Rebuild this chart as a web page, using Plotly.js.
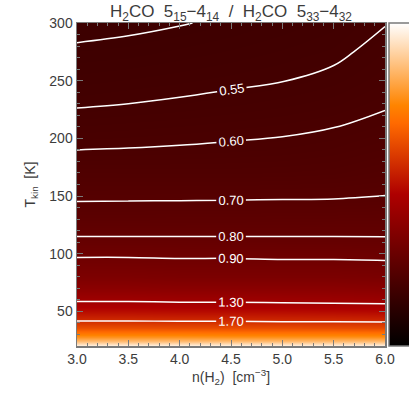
<!DOCTYPE html>
<html lang="en">
<head>
    <meta charset="UTF-8">
    <script src="https://cdn.plot.ly/plotly-3.0.1.min.js"></script>
    <style>
        html, body, #plot {
            width: 409px;
            height: 396px;
            margin: 0;
            padding: 0;
            overflow: hidden;
            background: #ffffff;
        }
    </style>
</head>
<body>
<div id="plot"></div>
<script>
    // log n(H2) grid [cm^-3]
    const density = [3.0, 3.5, 4.0, 4.5, 5.0, 5.5, 6.0];
    // kinetic temperature grid [K]
    const tkin = [20, 24, 28, 32, 36, 41, 50, 58, 70, 80, 95, 115, 130, 147, 170, 190, 210, 230, 250, 275, 300];

    // line ratio, one row per temperature, one column per density
    const ratio = [
        [2.95, 2.95, 2.95, 2.95, 2.95, 2.95, 2.95],
        [2.57, 2.57, 2.57, 2.57, 2.56, 2.56, 2.56],
        [2.33, 2.33, 2.33, 2.32, 2.32, 2.32, 2.31],
        [2.09, 2.09, 2.09, 2.08, 2.08, 2.08, 2.07],
        [1.90, 1.90, 1.89, 1.89, 1.89, 1.88, 1.87],
        [1.72, 1.72, 1.71, 1.71, 1.70, 1.70, 1.69],
        [1.48, 1.48, 1.47, 1.47, 1.47, 1.46, 1.45],
        [1.31, 1.31, 1.30, 1.30, 1.29, 1.28, 1.27],
        [1.12, 1.12, 1.11, 1.11, 1.11, 1.11, 1.10],
        [1.01, 1.01, 1.00, 1.00, 1.00, 1.00, 0.99],
        [0.910, 0.910, 0.905, 0.905, 0.900, 0.900, 0.895],
        [0.800, 0.800, 0.800, 0.800, 0.800, 0.800, 0.799],
        [0.745, 0.746, 0.747, 0.748, 0.750, 0.752, 0.755],
        [0.695, 0.696, 0.697, 0.698, 0.700, 0.701, 0.706],
        [0.645, 0.644, 0.643, 0.643, 0.645, 0.650, 0.665],
        [0.600, 0.602, 0.605, 0.609, 0.613, 0.622, 0.638],
        [0.572, 0.576, 0.580, 0.585, 0.590, 0.599, 0.615],
        [0.545, 0.550, 0.555, 0.561, 0.568, 0.577, 0.594],
        [0.527, 0.532, 0.537, 0.543, 0.549, 0.560, 0.578],
        [0.507, 0.510, 0.517, 0.524, 0.532, 0.541, 0.564],
        [0.485, 0.492, 0.498, 0.506, 0.516, 0.527, 0.548]
    ];

    // contour levels drawn on top of the map
    const levels = [0.50, 0.55, 0.60, 0.70, 0.80, 0.90, 1.30, 1.70];

    const axisGray = '#7a7a7a';
    const textGray = '#3c3c3c';
    const font = {family: 'Liberation Sans, Arial, sans-serif', size: 14, color: textGray};

    // IDL style "red temperature" table
    const redTemp = [
        [0, 'rgb(0,0,0)'],
        [0.47, 'rgb(174,0,0)'],
        [0.69, 'rgb(255,106,0)'],
        [0.745, 'rgb(255,132,0)'],
        [1, 'rgb(255,255,255)']
    ];

    const heat = {
        type: 'heatmap',
        x: density,
        y: tkin,
        z: ratio,
        zmin: 0,
        zmax: 3.0,
        zsmooth: 'best',
        colorscale: redTemp,
        hoverinfo: 'skip',
        colorbar: {
            x: 1.013,
            xanchor: 'left',
            xpad: 0,
            ypad: 0,
            y: 0.5,
            yanchor: 'middle',
            len: 1,
            thickness: 32,
            outlinecolor: axisGray,
            outlinewidth: 1.5,
            showticklabels: false,
            ticks: 'inside',
            ticklen: 4,
            tickcolor: axisGray,
            tick0: 0,
            dtick: 0.25
        }
    };

    // one contour trace per level, since the levels are not evenly spaced
    const lines = levels.map(lv => ({
        type: 'contour',
        x: density,
        y: tkin,
        z: ratio,
        showscale: false,
        hoverinfo: 'skip',
        contours: {
            coloring: 'none',
            start: lv,
            end: lv,
            size: 1,
            showlabels: true,
            labelformat: '.2f',
            labelfont: {family: 'Liberation Sans, Arial, sans-serif', size: 13, color: '#ffffff'}
        },
        line: {color: '#ffffff', width: 1.5, smoothing: 1}
    }));

    const axisCommon = {
        showgrid: false,
        zeroline: false,
        showline: true,
        linecolor: axisGray,
        linewidth: 1.5,
        mirror: 'allticks',
        ticks: 'inside',
        ticklen: 6,
        tickcolor: axisGray,
        tickwidth: 1,
        tickfont: font
    };

    const layout = {
        width: 409,
        height: 396,
        margin: {l: 77, r: 24, t: 23, b: 50, pad: 0, autoexpand: false},
        paper_bgcolor: '#ffffff',
        plot_bgcolor: '#ffffff',
        font: font,
        showlegend: false,
        title: {
            text: 'H<sub>2</sub>CO  5<sub>15</sub>\u22124<sub>14</sub>  /  H<sub>2</sub>CO  5<sub>33</sub>\u22124<sub>32</sub>',
            font: {family: 'Liberation Sans, Arial, sans-serif', size: 17, color: textGray},
            x: 0.5,
            xref: 'paper',
            xanchor: 'center',
            y: 0.972,
            yref: 'container',
            yanchor: 'middle'
        },
        xaxis: Object.assign({}, axisCommon, {
            range: [3.0, 6.0],
            tick0: 3.0,
            dtick: 0.5,
            tickformat: '.1f',
            minor: {ticks: 'inside', dtick: 0.1, ticklen: 3, tickcolor: axisGray},
            title: {text: 'n(H<sub>2</sub>)  [cm<sup>\u22123</sup>]', font: font, standoff: 2}
        }),
        yaxis: Object.assign({}, axisCommon, {
            range: [20, 300],
            tick0: 0,
            dtick: 50,
            minor: {ticks: 'inside', dtick: 10, ticklen: 3, tickcolor: axisGray},
            title: {text: 'T<sub>kin</sub>  [K]', font: font, standoff: 10}
        })
    };

    Plotly.newPlot('plot', [heat].concat(lines), layout, {displayModeBar: false, staticPlot: true});
</script>
</body>
</html>
